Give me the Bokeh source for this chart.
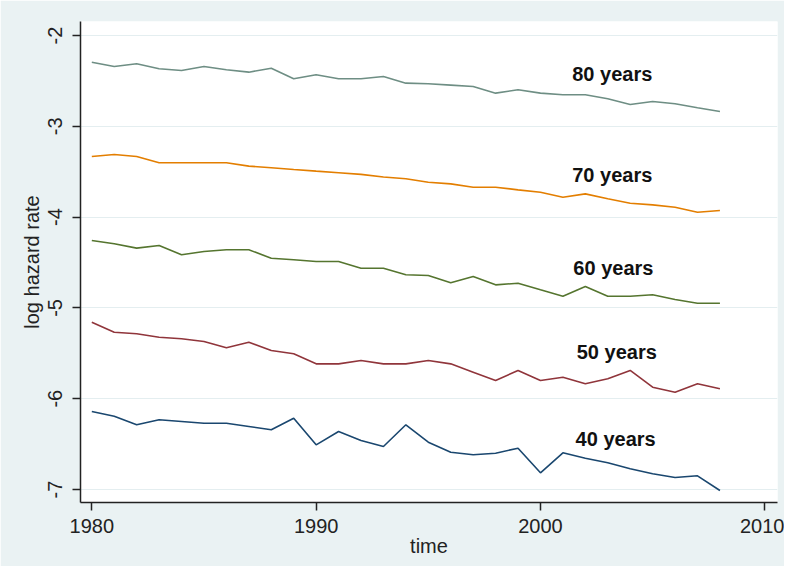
from bokeh.plotting import figure
from bokeh.models import Range1d, FixedTicker
from bokeh.core.properties import value
from bokeh.embed import file_html
from bokeh.resources import INLINE

years = list(range(1980, 2009))

age80 = [-2.294, -2.341, -2.312, -2.367, -2.385, -2.341, -2.378, -2.404, -2.360, -2.477,
         -2.433, -2.477, -2.477, -2.452, -2.525, -2.532, -2.547, -2.562, -2.635, -2.598,
         -2.635, -2.653, -2.653, -2.697, -2.760, -2.727, -2.752, -2.796, -2.837]
age70 = [-3.333, -3.311, -3.333, -3.402, -3.402, -3.402, -3.402, -3.439, -3.457, -3.476,
         -3.494, -3.511, -3.530, -3.559, -3.578, -3.616, -3.634, -3.671, -3.671, -3.700,
         -3.726, -3.781, -3.744, -3.798, -3.847, -3.865, -3.891, -3.946, -3.927]
age60 = [-4.258, -4.294, -4.342, -4.313, -4.415, -4.379, -4.360, -4.360, -4.453, -4.470,
         -4.489, -4.489, -4.563, -4.563, -4.635, -4.643, -4.724, -4.654, -4.746, -4.728,
         -4.801, -4.871, -4.764, -4.871, -4.871, -4.856, -4.907, -4.948, -4.948]
age50 = [-5.157, -5.268, -5.285, -5.323, -5.340, -5.370, -5.439, -5.378, -5.469, -5.505,
         -5.616, -5.616, -5.579, -5.616, -5.616, -5.579, -5.616, -5.708, -5.800, -5.689,
         -5.800, -5.763, -5.836, -5.781, -5.689, -5.873, -5.928, -5.836, -5.891]
age40 = [-6.141, -6.193, -6.287, -6.232, -6.251, -6.270, -6.270, -6.306, -6.342, -6.215,
         -6.508, -6.361, -6.460, -6.526, -6.287, -6.479, -6.589, -6.618, -6.600, -6.545,
         -6.816, -6.596, -6.655, -6.706, -6.772, -6.827, -6.868, -6.849, -7.011]

series_labels = ["80 years", "70 years", "60 years", "50 years", "40 years"]
label_x = [2003.2, 2003.2, 2003.25, 2003.4, 2003.35]
label_y = [-2.42, -3.54, -4.56, -5.49, -6.44]

x_ticks = [1980, 1990, 2000, 2010]
y_ticks = [-7, -6, -5, -4, -3, -2]

colors = ["#6e8e84", "#e37e00", "#55752f", "#90353b", "#1a476f"]
series = [age80, age70, age60, age50, age40]

p = figure(width=784, height=566, output_backend="svg", toolbar_location=None,
           x_range=Range1d(1979.496, 2010.566), y_range=Range1d(-7.143, -1.846),
           min_border_left=80, min_border_right=7, min_border_top=21, min_border_bottom=64)

p.background_fill_color = "white"
p.border_fill_color = "#eaf2f3"
p.outline_line_color = None

for vals, c in zip(series, colors):
    p.line(years, vals, line_color=c, line_width=1.6)

p.text(x=label_x, y=label_y, text=series_labels, text_align="center", text_baseline="middle",
       text_font=value("Liberation Sans"), text_font_style="bold", text_font_size="20px",
       text_color="#111111")

p.xaxis.ticker = FixedTicker(ticks=x_ticks)
p.yaxis.ticker = FixedTicker(ticks=y_ticks)
p.yaxis.major_label_overrides = {float(t): str(t) for t in y_ticks}
p.xaxis.axis_label = "time"
p.yaxis.axis_label = "log hazard rate"

for ax in (p.xaxis[0], p.yaxis[0]):
    ax.axis_line_color = "#222222"
    ax.axis_line_width = 1.5
    ax.major_tick_line_color = "#222222"
    ax.major_tick_line_width = 1.5
    ax.major_tick_out = 8
    ax.major_tick_in = 0
    ax.minor_tick_out = 0
    ax.minor_tick_in = 0
    ax.major_label_text_font = "Liberation Sans"
    ax.major_label_text_font_size = "20px"
    ax.major_label_text_color = "#222222"
    ax.axis_label_text_font = "Liberation Sans"
    ax.axis_label_text_font_size = "20px"
    ax.axis_label_text_font_style = "normal"
    ax.axis_label_text_color = "#222222"

p.xaxis.major_label_standoff = 8
p.xaxis.axis_label_standoff = -1
p.yaxis.major_label_standoff = 10
p.yaxis.axis_label_standoff = 3
p.yaxis.major_label_orientation = "vertical"

p.xgrid.grid_line_color = None
p.ygrid.grid_line_color = "#e4eef0"
p.ygrid.grid_line_width = 1.2

open("out.html", "w").write(file_html(p, INLINE))
